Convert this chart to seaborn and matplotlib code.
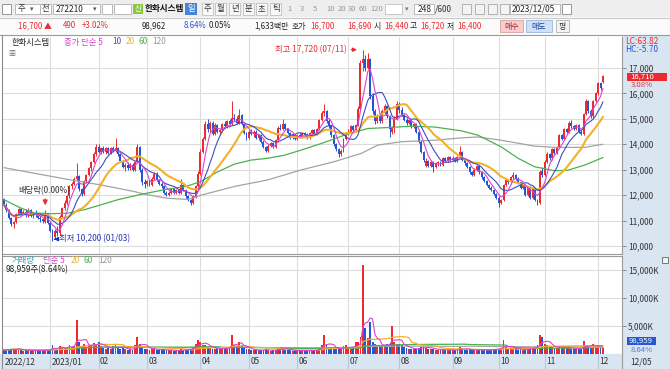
import numpy as np
import pandas as pd
import matplotlib
matplotlib.use("Agg")
import matplotlib.pyplot as plt
import seaborn as sns
from matplotlib.patches import Rectangle
from matplotlib.lines import Line2D

# ---------------- data (daily candles, 2022-12-05 .. 2023-12-05) ----------------
open_ = [
    11850, 11600, 11400, 11100, 10850, 10950, 11250, 11450, 11250, 11350, 11200, 11400, 11200, 11300, 11200, 11100, 11050, 10950, 11300,
    10900, 10600, 10350, 10600, 10500, 11150, 11500, 11700, 11950, 12350, 12450, 12650, 12750, 12250, 12050, 12550, 12800, 13050, 13300, 13600,
    13900, 13700, 13850, 13700, 13850, 13650, 13850, 13750, 13850, 13600, 13350, 13100, 13200, 13050, 13200, 13000, 13300, 13900, 13000, 12500,
    12450, 12550, 12400, 12650, 12850, 12600, 12450, 12350, 12100, 12000, 12100, 12250, 12100, 12200, 12100, 12400, 12200, 11950, 11800, 11700, 11950, 12350,
    12850, 13700, 14200, 14800, 14600, 14850, 14400, 14750, 14500, 14550, 14800, 14700, 14900, 14800, 15050, 15000, 14850, 15150, 14800, 14450,
    14250, 14500, 14400, 14500, 14250, 14350, 14100, 13900, 13750, 13950, 14050, 13900, 14150, 14650, 14600, 14800, 14600, 14450, 14250, 14350,
    14200, 14350, 14300, 14450, 14350, 14250, 14450, 14550, 14400, 14600, 14950, 15250, 15300, 14900, 14700, 14350, 14000, 13800, 13600, 13750, 14200,
    14450, 14500, 14700, 14550, 14750, 15400, 17200, 17350, 17000, 17350, 15900, 15300, 14900, 15100, 14900, 15300, 15500, 15100, 14500, 14650, 15000,
    15600, 15350, 15150, 14950, 14850, 14950, 14700, 14800, 14500, 14100, 13700, 13150, 13350, 13150, 13300, 13100, 13250, 13300, 13200, 13450, 13350, 13500,
    13400, 13450, 13350, 13500, 13700, 13400, 13250, 13100, 12900, 12800, 13000, 13150, 12900, 12700, 12550, 12400, 12300, 12200, 12050,
    11900, 11700, 11800, 12400, 12600, 12500, 12700, 12800, 12650, 12500, 12300, 12400, 12000, 12300, 11900, 12250, 11800, 11700, 12950,
    12800, 13300, 13600, 13450, 13800, 13650, 13900, 14350, 14200, 14600, 14500, 14850, 14700, 14600, 14750, 14500, 14400, 15200, 15700, 15300, 15100, 15700,
    16000, 16400, 16440,
]
high = [
    11900, 11700, 11450, 11150, 11000, 11300, 11500, 11500, 11400, 11450, 11500, 11450, 11350, 11400, 11250, 11200, 11100, 11400, 11300,
    10950, 10650, 10650, 10800, 11200, 11550, 11800, 12000, 12400, 12500, 12700, 13250, 12800, 12300, 12600, 12850, 13100, 13350, 13700, 14000,
    14000, 13900, 13950, 13900, 13900, 13900, 13950, 14250, 13900, 13650, 13400, 13250, 13300, 13250, 13250, 13350, 14000, 13950, 13050, 12650,
    12600, 12600, 12700, 12900, 12900, 12650, 12500, 12400, 12150, 12150, 12300, 12300, 12250, 12250, 12650, 12450, 12250, 12000, 11850, 12000, 12400, 12950,
    13800, 14300, 14900, 15000, 14900, 14900, 14850, 14800, 14600, 14850, 14900, 14950, 15000, 15700, 15200, 15100, 15400, 15200, 14850, 14500,
    14550, 14600, 14550, 14550, 14400, 14400, 14150, 13950, 14000, 14100, 14100, 14200, 14700, 14800, 15000, 14850, 14650, 14500, 14400, 14400,
    14400, 14450, 14500, 14500, 14450, 14500, 14600, 14600, 14650, 15000, 15300, 15600, 15350, 15000, 14750, 14400, 14050, 13850, 13800, 14250, 14500,
    14600, 14750, 14750, 14800, 15500, 17300, 17720, 17500, 17600, 17400, 16000, 15400, 15200, 15150, 15400, 15600, 15550, 15150, 14700, 15100, 15700,
    15650, 15450, 15200, 15050, 15000, 15000, 14850, 14850, 14550, 14150, 13750, 13450, 13400, 13350, 13350, 13300, 13350, 13350, 13500, 13500, 13550, 13550,
    13550, 13500, 13550, 13950, 13750, 13450, 13300, 13150, 12950, 13050, 13200, 13200, 12950, 12750, 12600, 12450, 12350, 12250, 12100,
    11950, 11850, 12450, 12650, 12650, 12750, 12900, 12850, 12700, 12550, 12450, 12450, 12350, 12350, 12300, 12300, 11850, 13000, 13100,
    13400, 13700, 13650, 13850, 13850, 13950, 14400, 14400, 14650, 14650, 14900, 14950, 14750, 14800, 14800, 14550, 15250, 15800, 15750, 15400, 15750, 16050,
    16450, 16450, 16720,
]
low = [
    11550, 11350, 11050, 10800, 10700, 10900, 11200, 11200, 11200, 11150, 11150, 11150, 11100, 11150, 11050, 10950, 10900, 10900, 10850,
    10550, 10200, 10300, 10400, 10450, 11100, 11400, 11600, 11900, 12250, 12400, 12550, 12150, 11950, 12000, 12500, 12750, 12950, 13250, 13550,
    13650, 13600, 13650, 13600, 13600, 13600, 13700, 13700, 13550, 13300, 13050, 12950, 13000, 13000, 12950, 12950, 13250, 12900, 12400, 12300,
    12350, 12350, 12350, 12600, 12550, 12400, 12300, 12050, 11950, 11950, 12050, 12050, 12050, 12050, 12050, 12150, 11900, 11750, 11600, 11650, 11900, 12300,
    12800, 13650, 14150, 14500, 14500, 14350, 14350, 14450, 14350, 14500, 14650, 14650, 14750, 14750, 14900, 14800, 14800, 14750, 14400, 14150,
    14200, 14350, 14300, 14200, 14150, 14050, 13850, 13700, 13700, 13900, 13850, 13850, 14100, 14550, 14550, 14550, 14400, 14200, 14200, 14150,
    14150, 14250, 14250, 14300, 14200, 14200, 14400, 14350, 14350, 14550, 14900, 15100, 14850, 14650, 14300, 13950, 13750, 13500, 13550, 13700, 14150,
    14350, 14450, 14500, 14500, 14700, 15350, 16900, 16900, 16950, 15800, 15200, 14800, 14850, 14850, 14850, 15200, 15050, 14300, 14400, 14450, 14950,
    15250, 15100, 14900, 14750, 14800, 14650, 14650, 14450, 14050, 13650, 13300, 13100, 13100, 13100, 12900, 13050, 13150, 13150, 13150, 13300, 13300, 13350,
    13350, 13300, 13300, 13450, 13350, 13200, 13050, 12850, 12750, 12750, 12950, 12850, 12650, 12500, 12350, 12250, 12150, 12000, 11850,
    11550, 11650, 11750, 12350, 12450, 12450, 12650, 12600, 12450, 12250, 12250, 11950, 11950, 11850, 11850, 11750, 11600, 11650, 12700,
    12750, 13250, 13400, 13400, 13600, 13600, 13850, 14150, 14150, 14450, 14450, 14650, 14550, 14550, 14450, 14350, 14350, 15150, 15250, 15050, 15050, 15650,
    15950, 16150, 16400,
]
close = [
    11600, 11400, 11100, 10850, 10950, 11250, 11450, 11250, 11350, 11200, 11400, 11200, 11300, 11200, 11100, 11050, 11000, 11300, 10900,
    10600, 10350, 10600, 10500, 11150, 11500, 11700, 11950, 12350, 12450, 12650, 12750, 12250, 12050, 12550, 12800, 13050, 13300, 13600, 13900,
    13700, 13850, 13700, 13850, 13650, 13850, 13750, 13850, 13600, 13350, 13100, 13200, 13050, 13200, 13000, 13300, 13900, 13000, 12500, 12450,
    12550, 12400, 12650, 12850, 12600, 12450, 12350, 12100, 12000, 12100, 12250, 12100, 12200, 12100, 12400, 12200, 11950, 11800, 11700, 11950, 12350, 12850,
    13700, 14200, 14800, 14600, 14850, 14400, 14750, 14500, 14550, 14800, 14700, 14900, 14800, 15050, 15000, 14850, 15150, 14800, 14450, 14250,
    14500, 14400, 14500, 14250, 14350, 14100, 13900, 13750, 13950, 14050, 13900, 14150, 14650, 14600, 14800, 14600, 14450, 14250, 14350, 14200,
    14350, 14300, 14450, 14350, 14250, 14450, 14550, 14400, 14600, 14950, 15250, 15300, 14900, 14700, 14350, 14000, 13800, 13600, 13750, 14200, 14450,
    14500, 14700, 14550, 14750, 15400, 17200, 17350, 17000, 17350, 15900, 15300, 14900, 15100, 14900, 15300, 15500, 15100, 14600, 14650, 15000, 15600,
    15350, 15150, 14950, 14850, 14950, 14700, 14800, 14500, 14100, 13700, 13400, 13350, 13150, 13300, 13100, 13250, 13300, 13200, 13450, 13350, 13500, 13400,
    13450, 13350, 13500, 13700, 13400, 13250, 13100, 12900, 12800, 13000, 13150, 12900, 12700, 12550, 12400, 12300, 12200, 12050, 11900,
    11700, 11800, 12400, 12600, 12500, 12700, 12800, 12650, 12500, 12300, 12400, 12000, 12300, 11900, 12250, 11800, 11700, 12900, 12800,
    13300, 13600, 13450, 13800, 13650, 13900, 14350, 14200, 14600, 14500, 14850, 14700, 14600, 14750, 14500, 14400, 15200, 15700, 15300, 15100, 15700, 16000,
    16400, 16210, 16700,
]
volume_k = [
    700, 650, 800, 900, 750, 800, 900, 600, 550, 600, 700, 500, 550, 500, 600, 550, 500, 900, 600,
    900, 1500, 900, 800, 1300, 1200, 1100, 1000, 1500, 1200, 1400, 6000, 2100, 1300, 1800, 1200, 1500, 1600, 1900, 1700,
    2100, 1400, 1100, 900, 1000, 800, 1300, 1700, 1000, 900, 1100, 800, 700, 800, 700, 1500, 2900, 1800, 1200, 900,
    800, 700, 900, 1000, 700, 600, 600, 800, 700, 600, 600, 500, 600, 500, 900, 600, 700, 800, 900, 1200, 1800, 2500,
    2000, 1500, 1600, 1200, 1000, 900, 800, 1000, 900, 800, 1000, 900, 1200, 3300, 1500, 1300, 2000, 1500, 1000, 900,
    800, 700, 600, 600, 700, 600, 700, 800, 600, 500, 600, 700, 1100, 900, 1000, 700, 600, 600, 500, 600,
    600, 500, 600, 500, 500, 700, 600, 500, 700, 1000, 1500, 3400, 1500, 1200, 1000, 900, 1000, 800, 900, 1300, 1500,
    1000, 900, 1200, 2000, 2000, 3000, 15800, 4600, 2800, 5700, 2000, 1800, 1500, 1300, 1500, 1600, 1700, 1800, 5000, 2000, 1800,
    1800, 1500, 1200, 1000, 900, 800, 900, 800, 1000, 1200, 1300, 1100, 900, 800, 900, 700, 700, 600, 800, 700, 700, 600,
    700, 600, 800, 1200, 900, 700, 600, 800, 700, 600, 800, 700, 700, 600, 700, 800, 700, 800, 900,
    900, 1000, 2400, 1200, 900, 1000, 900, 800, 700, 800, 700, 900, 1000, 900, 1000, 1200, 1500, 3300, 3000,
    1800, 1500, 1200, 1300, 1000, 1100, 1400, 1000, 1200, 1000, 1100, 900, 800, 900, 800, 900, 2200, 1600, 1300, 1100, 1700, 1400,
    1500, 1300, 1100,
]
# long moving averages (their history starts before the window)
ma60_idx = [0, 7, 12.5, 19.4, 26.3, 33.2, 40, 46.9, 53.8, 57.5, 67, 75, 81, 88.2, 95, 101.9, 108.8, 115.6,
            122.5, 130.8, 140.4, 150, 158.3, 168, 177.5, 188.5, 195.4, 205, 212, 218.7, 227, 232.5, 239.4, 247]
ma60_val = [11820, 11490, 11300, 11270, 11290, 11430, 11620, 11820, 11970, 12050, 12230, 12340, 12530, 12920, 13220, 13380, 13450, 13570,
            13770, 14030, 14360, 14620, 14660, 14710, 14680, 14530, 14360, 13900, 13450, 13120, 12960, 12980, 13180, 13480]
ma120_idx = [0, 12.5, 26.3, 40, 53.8, 57.5, 67, 75.8, 81.3, 95, 108.8, 122.5, 136.3, 147.3, 154.2, 163.8, 177.5,
             188.5, 195.4, 205, 218.7, 227, 239.4, 247]
ma120_val = [13080, 12860, 12620, 12400, 12140, 12050, 11880, 11830, 12000, 12340, 12600, 12990, 13320, 13640, 13970, 14100, 14160,
             14250, 14290, 14160, 13930, 13880, 13880, 14000]
month_start = [19, 39, 59, 81, 101, 121, 142, 163, 185, 204, 223, 245]
month_labels = ["2023/01", "02", "03", "04", "05", "06", "07", "08", "09", "10", "11", "12"]
first_label = "2022/12"
price_ticks = [10000, 11000, 12000, 13000, 14000, 15000, 16000, 17000]
vol_ticks = [5000, 10000, 15000]
ex_div_idx = 17

n = len(close)
assert len(open_) == n and len(high) == n and len(low) == n and len(volume_k) == n

# ---------------- style ----------------
sns.set_theme(style="white")
plt.rcParams['font.family'] = ['Noto Sans CJK KR', 'DejaVu Sans']
plt.rcParams['axes.unicode_minus'] = False

RED = '#ec2a2f'
BLUE = '#2456d3'
C_MA5 = '#dd44cc'
C_MA10 = '#3c4fc0'
C_MA20 = '#f2b128'
C_MA60 = '#4cb050'
C_MA120 = '#a3a3a3'
AXBG = '#dae5f2'
GRID = '#dcdcdc'
FS = 6

W, H = 670, 369
fig = plt.figure(figsize=(W / 100, H / 100), dpi=100)
fig.patch.set_facecolor('white')


def fx(x):
    return x / W


def fy(y):
    return 1 - y / H


def ftext(x, y, s, **kw):
    kw.setdefault('fontsize', FS)
    kw.setdefault('va', 'center')
    kw.setdefault('ha', 'left')
    fig.text(fx(x), fy(y), s, **kw)


def frect(x0, y0, x1, y1, fc, ec='none', lw=0.6, z=0):
    fig.add_artist(Rectangle((fx(x0), fy(y1)), (x1 - x0) / W, (y1 - y0) / H,
                             transform=fig.transFigure, facecolor=fc, edgecolor=ec, linewidth=lw, zorder=z))


def fline(x0, y0, x1, y1, color='#9a9a9a', lw=0.8):
    fig.add_artist(Line2D([fx(x0), fx(x1)], [fy(y0), fy(y1)], transform=fig.transFigure, color=color, linewidth=lw))


# ---------------- toolbar ----------------
frect(0, 0, 670, 17.5, '#eeeeee')
frect(0, 17.5, 670, 34.5, '#fbfbfb')
fline(0, 17.5, 670, 17.5, '#c8c8c8')
fline(0, 34.5, 670, 34.5, '#9a9a9a')
frect(2, 4, 11, 14, 'white', '#888888')
frect(15, 4, 40, 14, 'white', '#b0b0b0')
ftext(18, 9, '주', color='#333')
ftext(30, 9, '▾', color='#555', fontsize=5)
frect(40, 4, 51, 14, 'white', '#b0b0b0')
ftext(42, 9, '전', color='#333')
frect(53, 4, 100, 14, 'white', '#b0b0b0')
ftext(56, 9, '272210', color='#222')
ftext(93, 9, '▾', color='#555', fontsize=5)
frect(102, 4, 112, 14, 'white', '#b0b0b0')
frect(114, 4, 131, 14, 'white', '#b0b0b0')
frect(133, 4, 143, 14, '#8cc63f')
ftext(135, 9, '신', color='white', fontsize=5.5)
ftext(145, 9, '한화시스템', color='#111', fontsize=6.2, fontweight='bold')
frect(185, 3.5, 197, 14.5, '#4a82d6')
ftext(187.5, 9, '일', color='white')
for xx, s in [(203, '주'), (216, '월'), (230, '년'), (244, '분'), (257, '초'), (271, '틱')]:
    frect(xx - 1, 3.5, xx + 10, 14.5, '#f8f8f8', '#c0c0c0')
    ftext(xx + 1, 9, s, color='#333')
for xx, s in [(287, '1'), (300, '3'), (313, '5'), (326, '10'), (338, '20'), (348, '30'), (359, '60'), (370, '120')]:
    ftext(xx, 9, s, color='#999', fontsize=5.5)
frect(385, 4, 402, 14, 'white', '#c0c0c0')
ftext(405, 9, '▾', color='#777', fontsize=5)
frect(414, 4, 434, 14, 'white', '#b0b0b0')
ftext(418, 9, '248', color='#222')
ftext(435, 9, '/600', color='#333')
for xx in [462, 475, 488, 500]:
    frect(xx, 4, xx + 9, 14, '#f4f4f4', '#a8a8a8')
frect(510, 4, 560, 14, 'white', '#b0b0b0')
ftext(512, 9, '2023/12/05', color='#222')
frect(562, 4, 571, 14, 'white', '#888888')

r2 = 26
F2 = 5.7
ftext(18, r2, '16,700 ▲', color=RED, fontsize=F2)
ftext(63, r2, '490', color=RED, fontsize=F2)
ftext(82, r2, '+3.02%', color=RED, fontsize=F2)
ftext(142, r2, '98,962', color='#222', fontsize=F2)
ftext(184, r2, '8.64%', color=BLUE, fontsize=F2)
ftext(209, r2, '0.05%', color='#222', fontsize=F2)
ftext(254, r2, '1,633백만', color='#222', fontsize=F2)
ftext(292, r2, '호가', color='#222', fontsize=F2)
ftext(310, r2, '16,700', color=RED, fontsize=F2)
ftext(347, r2, '16,690', color=RED, fontsize=F2)
ftext(374, r2, '시', color='#222', fontsize=F2)
ftext(384, r2, '16,440', color=RED, fontsize=F2)
ftext(410, r2, '고', color='#222', fontsize=F2)
ftext(420, r2, '16,720', color=RED, fontsize=F2)
ftext(447, r2, '저', color='#222', fontsize=F2)
ftext(457, r2, '16,400', color=RED, fontsize=F2)
frect(500, 20, 523, 32, '#f7cdcd', '#d9a0a0')
ftext(504, r2, '매수', color='#b02020', fontsize=F2)
frect(526, 20, 552, 32, '#cfe0f7', '#9bb5d9')
ftext(531, r2, '매도', color='#2040a0', fontsize=F2)
frect(556, 20, 569, 32, '#f4f4f4', '#b0b0b0')
ftext(559, r2, '평', color='#333', fontsize=F2)

# right axis area and date strip backgrounds
frect(622, 35, 670, 369, AXBG)
frect(0, 354, 670, 369, AXBG)
fline(1.5, 35, 1.5, 369, '#8a8a8a', 0.8)

# ---------------- price panel ----------------
x = np.arange(n)
o = np.array(open_, float)
c = np.array(close, float)
h = np.array(high, float)
l = np.array(low, float)
colors = np.where(c >= o, RED, BLUE)
xlim = (-0.41, 254.85)

ax = fig.add_axes([fx(3), fy(254), 619 / W, 217 / H])
ax.set_facecolor('white')
for v in price_ticks:
    ax.axhline(v, color=GRID, lw=0.8, zorder=0)
for m in month_start:
    ax.axvline(m, color=GRID, lw=0.8, zorder=0)

ax.vlines(x, l, h, colors=colors, linewidth=0.7, zorder=3)
ax.bar(x, np.maximum(np.abs(c - o), 25), bottom=np.minimum(o, c), width=0.8,
       color=colors, linewidth=0, zorder=4)

df = pd.DataFrame({'i': x, 'close': c, 'vol': np.array(volume_k, float)})
for per in (5, 10, 20):
    df[f'ma{per}'] = df['close'].rolling(per, min_periods=1).mean()
sns.lineplot(x=ma120_idx, y=ma120_val, ax=ax, color=C_MA120, linewidth=0.9, legend=False, zorder=5)
sns.lineplot(x=ma60_idx, y=ma60_val, ax=ax, color=C_MA60, linewidth=0.9, legend=False, zorder=5)
sns.lineplot(data=df, x='i', y='ma20', ax=ax, color=C_MA20, linewidth=1.5, legend=False, zorder=5)
sns.lineplot(data=df, x='i', y='ma10', ax=ax, color=C_MA10, linewidth=0.8, legend=False, zorder=6)
sns.lineplot(data=df, x='i', y='ma5', ax=ax, color=C_MA5, linewidth=0.8, legend=False, zorder=6)
ax.set_xlabel('')
ax.set_ylabel('')
ax.set_xlim(*xlim)
ax.set_ylim(9685, 18220)

ax.set_xticks([])
ax.yaxis.tick_right()
ax.set_yticks(price_ticks)
ax.set_yticklabels([f'{v:,}' for v in price_ticks])
ax.tick_params(axis='y', which='both', right=True, left=False, length=3, width=0.6,
               color='#777777', pad=1.5, labelsize=FS, labelcolor='#333333')
for side, sp in ax.spines.items():
    sp.set_color('#9a9a9a')
    sp.set_linewidth(0.8)
ax.spines['left'].set_visible(False)
ax.spines['top'].set_visible(False)

# annotations
pk = int(np.argmax(h))
ax.annotate('', xy=(pk - 1.3, h[pk]), xytext=(pk - 6.0, h[pk]),
            arrowprops=dict(arrowstyle='-|>', color=RED, lw=0.8, mutation_scale=6), zorder=7)
ax.text(pk - 6.6, h[pk], f'최고 {h[pk]:,.0f} (07/11)', color=RED, fontsize=FS, ha='right', va='center', zorder=7)
mn = int(np.argmin(l))
ax.annotate('', xy=(mn + 0.6, l[mn] + 70), xytext=(mn + 2.4, l[mn] + 70),
            arrowprops=dict(arrowstyle='-|>', color='#1a2fc0', lw=0.8, mutation_scale=6), zorder=7)
ax.text(mn + 2.6, l[mn] + 70, f'최저 {l[mn]:,.0f} (01/03)', color='#2236b8', fontsize=FS, ha='left', va='center', zorder=7)
ax.annotate('', xy=(ex_div_idx, h[ex_div_idx] + 90), xytext=(ex_div_idx, h[ex_div_idx] + 560),
            arrowprops=dict(arrowstyle='-|>', color=RED, lw=0.9, mutation_scale=7), zorder=7)
ax.text(ex_div_idx - 0.3, h[ex_div_idx] + 780, '배당락(0.00%)', color='#333333', fontsize=FS, ha='center', va='center', zorder=7)

# legend of price panel
frect(4.5, 39.5, 8, 43, '#9a9a9a')
frect(10, 37.5, 55, 46.5, '#e6e6e6', '#c8c8c8')
ftext(11.5, 42, '한화시스템', color='#222')
frect(57.5, 39.5, 61, 43, '#9a9a9a')
ftext(64, 42, '종가 단순 5', color=C_MA5)
ftext(112, 42, '10', color=C_MA10)
ftext(125.5, 42, '20', color=C_MA20)
ftext(138.5, 42, '60', color=C_MA60)
ftext(152, 42, '120', color='#999999')
frect(7, 50, 16, 59, '#eeeeee', '#888888')
ftext(8.3, 54.5, '▦', color='#777', fontsize=5)

# right side labels of price panel
ftext(625.5, 41.5, 'LC:63.82', color=RED)
ftext(625.5, 50, 'HC:-5.70', color=BLUE)
frect(627, 73, 667, 80.5, RED)
ftext(630, 76.8, '16,710', color='white', fontsize=5.6)
ftext(631, 85, '3.08%', color=RED, fontsize=5.6)

# ---------------- volume panel ----------------
vax = fig.add_axes([fx(3), fy(353.7), 619 / W, (353.7 - 256) / H])
vax.set_facecolor('white')
for v in vol_ticks:
    vax.axhline(v, color=GRID, lw=0.8, zorder=0)
for m in month_start:
    vax.axvline(m, color=GRID, lw=0.8, zorder=0)
vax.bar(x, df['vol'], width=0.78, color=colors, linewidth=0, zorder=3)
for per, col, lw in [(120, C_MA120, 0.8), (60, C_MA60, 0.9), (20, C_MA20, 0.9), (5, C_MA5, 0.8)]:
    df[f'vma{per}'] = df['vol'].rolling(per, min_periods=1).mean()
    sns.lineplot(data=df, x='i', y=f'vma{per}', ax=vax, color=col, linewidth=lw, legend=False, zorder=4)
vax.set_xlabel('')
vax.set_ylabel('')
vax.set_xlim(*xlim)
vax.set_ylim(0, 17446)
vax.set_xticks([])
vax.yaxis.tick_right()
vax.set_yticks(vol_ticks)
vax.set_yticklabels([f'{v:,}K' for v in vol_ticks])
vax.tick_params(axis='y', which='both', right=True, left=False, length=3, width=0.6,
                color='#777777', pad=1.5, labelsize=FS, labelcolor='#333333')
for side, sp in vax.spines.items():
    sp.set_color('#9a9a9a')
    sp.set_linewidth(0.8)
vax.spines['left'].set_visible(False)

frect(4.5, 258.5, 8, 262, '#9a9a9a')
ftext(12, 260.5, '거래량', color='#2aa6b4')
ftext(43, 260.5, '단순 5', color=C_MA5)
ftext(71, 260.5, '20', color=C_MA20)
ftext(84, 260.5, '60', color=C_MA60)
ftext(98, 260.5, '120', color='#999999')
ftext(6, 270, '98,959주(8.64%)', color='#222')
frect(661.5, 257, 668, 263, '#f2f2f2', '#666666')
frect(627, 336.5, 656, 345, '#2458d4')
ftext(629, 340.8, '98,959', color='white', fontsize=5.6)
ftext(631, 349.5, '8.64%', color='#5a78c8', fontsize=5.6)

# ---------------- date strip ----------------
dax = fig.add_axes([fx(3), fy(369), 619 / W, (369 - 354.2) / H])
dax.set_facecolor(AXBG)
dax.set_xlim(*xlim)
dax.set_ylim(0, 1)
for m in month_start:
    dax.axvline(m, color='#b9c6d6', lw=0.8)
dax.text(0.3, 0.5, first_label, fontsize=FS, color='#333', ha='left', va='center')
for m, s in zip(month_start, month_labels):
    dax.text(m + 0.5, 0.5, s, fontsize=FS, color='#333', ha='left', va='center')
dax.set_xticks([])
dax.set_yticks([])
for sp in dax.spines.values():
    sp.set_visible(False)
ftext(630, 361.5, '12/05', color='#333')
fline(622, 354, 622, 369, '#9a9a9a', 0.8)

fig.savefig('out.png', dpi=100)
